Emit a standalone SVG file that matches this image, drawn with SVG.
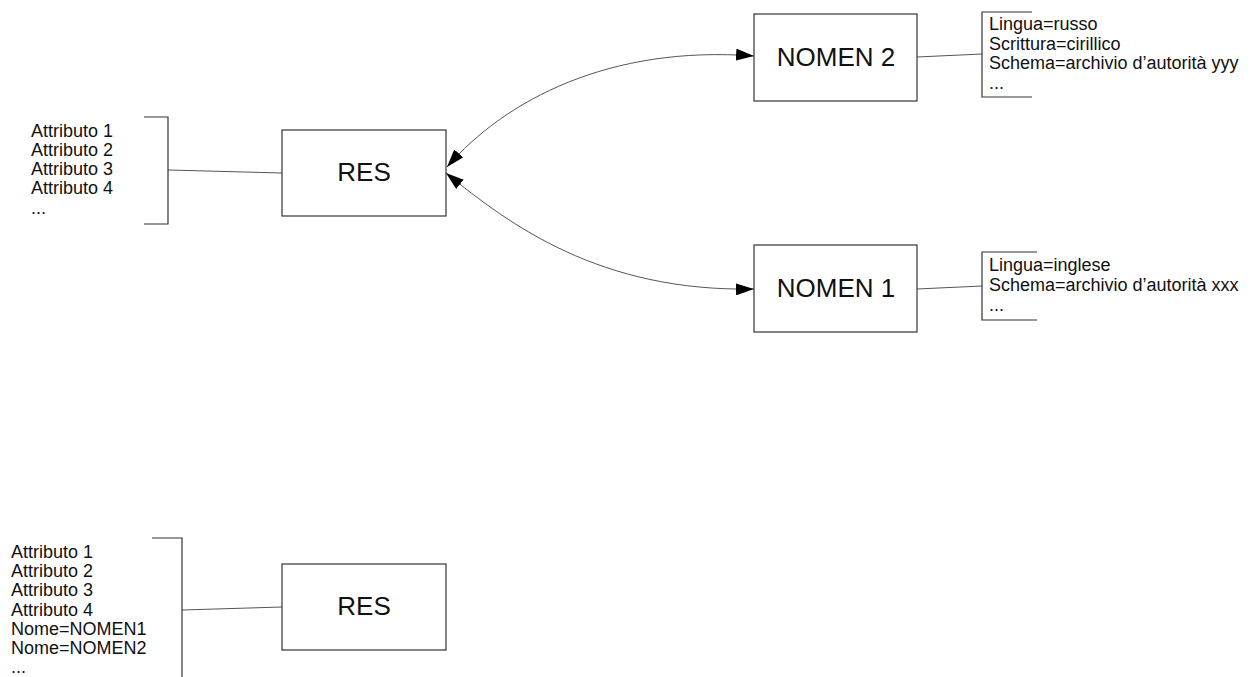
<svg xmlns="http://www.w3.org/2000/svg" width="1257" height="677" viewBox="0 0 1257 677">
<defs>
<style>
.box{fill:#fff;stroke:#333;stroke-width:1.2}
.br{fill:none;stroke:#333;stroke-width:1.2}
.ln{fill:none;stroke:#555;stroke-width:1}
.t{font-family:"Liberation Sans",Arial,sans-serif;font-size:18px;fill:#111}
.big{font-family:"Liberation Sans",Arial,sans-serif;font-size:26px;fill:#111;text-anchor:middle}
</style>
<marker id="ah" viewBox="0 0 18 12" refX="18" refY="6" markerWidth="18" markerHeight="12" markerUnits="userSpaceOnUse" orient="auto-start-reverse">
<path d="M0,0 L18,6 L0,12 z" fill="#000"/>
</marker>
</defs>
<rect width="1257" height="677" fill="#fff"/>

<g id="connectors">
<line class="ln" x1="168" y1="170" x2="282" y2="173"/>
<line class="ln" x1="917" y1="57" x2="982" y2="54"/>
<line class="ln" x1="917" y1="289" x2="982" y2="286"/>
<line class="ln" x1="182" y1="610" x2="282" y2="607"/>
<path class="ln" d="M447,167 C505,100 610,45 754,56" marker-start="url(#ah)" marker-end="url(#ah)"/>
<path class="ln" d="M446,173 C510,225 600,292 754,289" marker-start="url(#ah)" marker-end="url(#ah)"/>
</g>

<g id="attr-top">
<path class="br" d="M144,117 H168 V224 H144"/>
<text class="t" x="31" y="137">Attributo 1</text>
<text class="t" x="31" y="156">Attributo 2</text>
<text class="t" x="31" y="175">Attributo 3</text>
<text class="t" x="31" y="194">Attributo 4</text>
<text class="t" x="31" y="214">...</text>
</g>

<g id="res-top">
<rect class="box" x="282" y="130" width="164" height="86"/>
<text class="big" x="364" y="181">RES</text>
</g>

<g id="nomen2">
<rect class="box" x="754" y="14" width="163" height="87"/>
<text class="big" x="836" y="66">NOMEN 2</text>
</g>

<g id="nomen2-attr">
<path class="br" d="M1032,12 H982 V97 H1032"/>
<text class="t" x="989" y="30">Lingua=russo</text>
<text class="t" x="989" y="50">Scrittura=cirillico</text>
<text class="t" x="989" y="69">Schema=archivio d’autorità yyy</text>
<text class="t" x="989" y="89">...</text>
</g>

<g id="nomen1">
<rect class="box" x="754" y="245" width="163" height="87"/>
<text class="big" x="836" y="297">NOMEN 1</text>
</g>

<g id="nomen1-attr">
<path class="br" d="M1037,252 H982 V320 H1037"/>
<text class="t" x="989" y="271">Lingua=inglese</text>
<text class="t" x="989" y="291">Schema=archivio d’autorità xxx</text>
<text class="t" x="989" y="311">...</text>
</g>

<g id="attr-bottom">
<path class="br" d="M152,538 H182 V677"/>
<text class="t" x="11" y="558">Attributo 1</text>
<text class="t" x="11" y="577">Attributo 2</text>
<text class="t" x="11" y="596">Attributo 3</text>
<text class="t" x="11" y="616">Attributo 4</text>
<text class="t" x="11" y="635">Nome=NOMEN1</text>
<text class="t" x="11" y="654">Nome=NOMEN2</text>
<text class="t" x="11" y="673">...</text>
</g>

<g id="res-bottom">
<rect class="box" x="282" y="564" width="164" height="86"/>
<text class="big" x="364" y="615">RES</text>
</g>
</svg>
